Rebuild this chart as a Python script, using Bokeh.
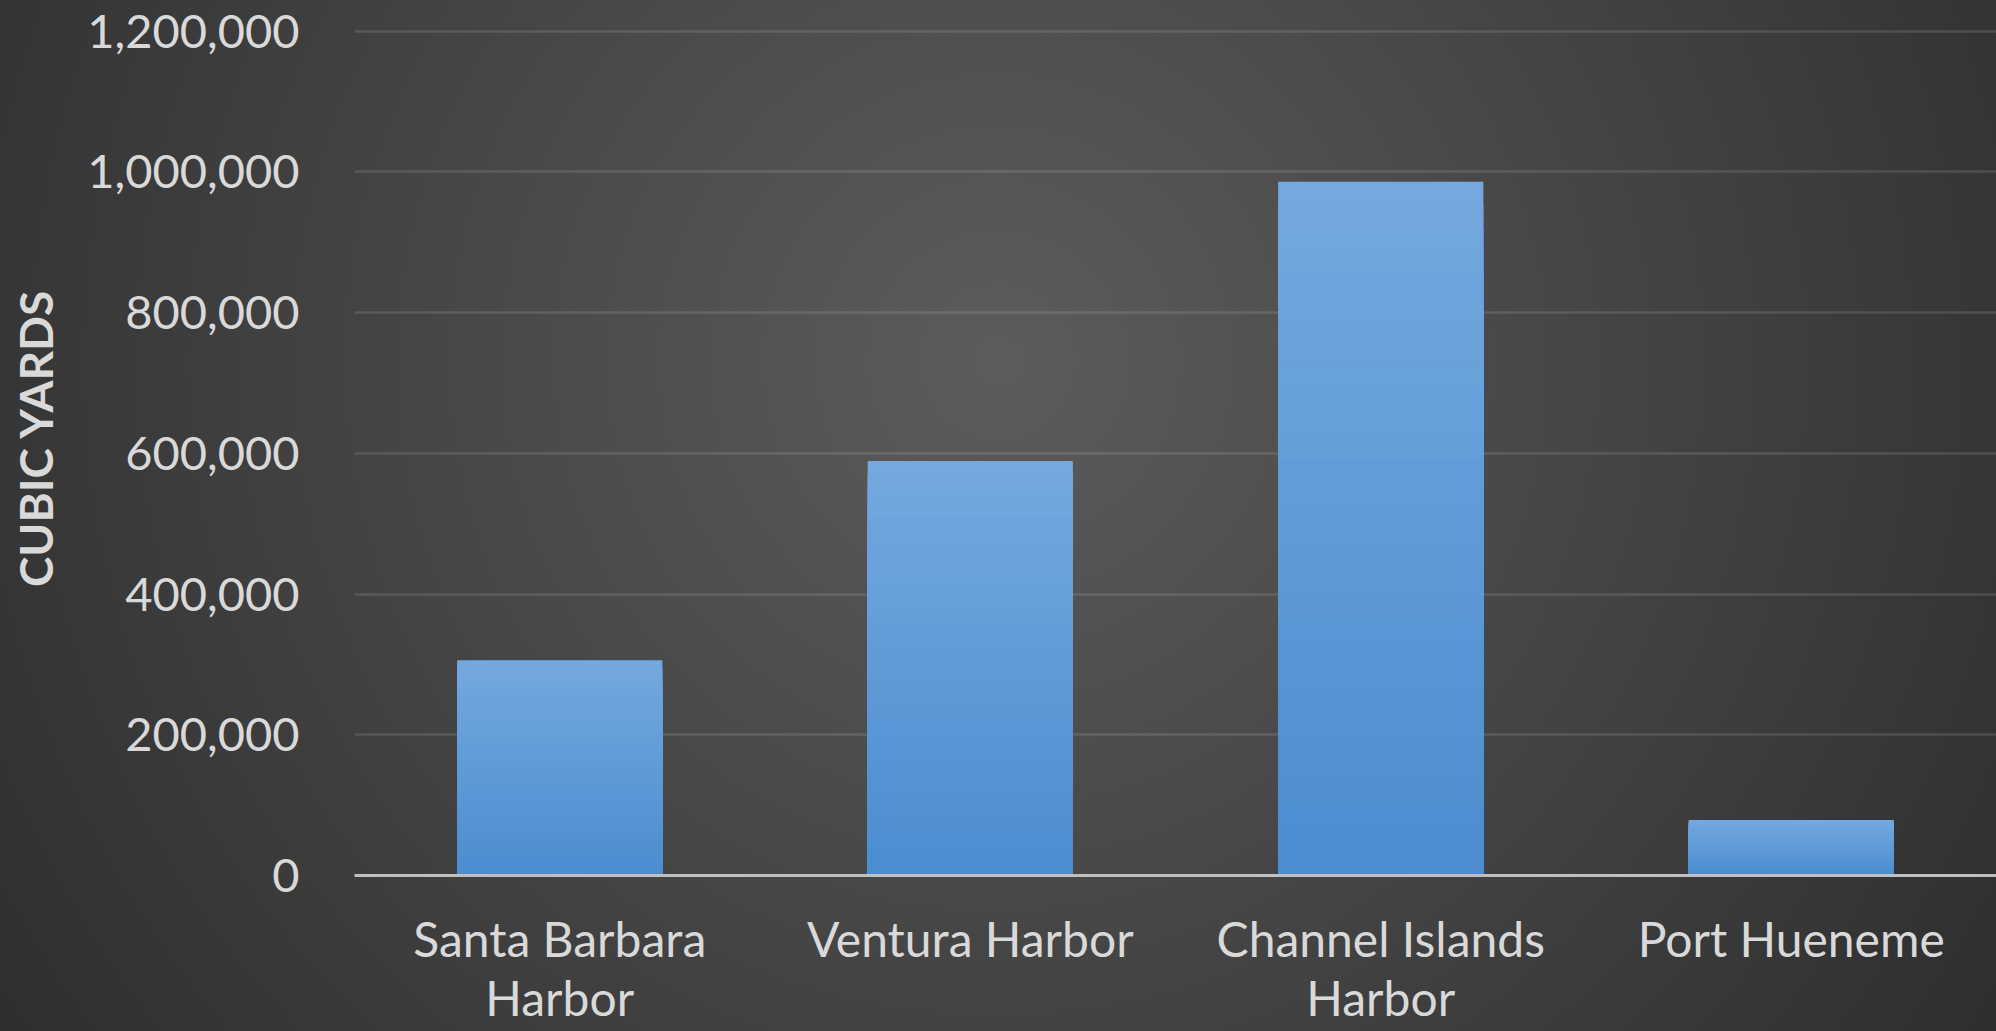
from bokeh.plotting import figure
from bokeh.models import Range1d, FixedTicker, NumeralTickFormatter, FactorRange
from bokeh.embed import file_html
from bokeh.resources import INLINE

# ---- data ----
harbors = ["Santa Barbara\nHarbor", "Ventura Harbor", "Channel Islands\nHarbor", "Port Hueneme"]
cubic_yards = [306000, 589000, 986000, 79000]
y_ticks = [0, 200000, 400000, 600000, 800000, 1000000, 1200000]
y_title = "CUBIC YARDS"

BG = "radial-gradient(circle farthest-corner at 50% 35%, #5c5c5c 0%, #2e2e2e 100%)"

p = figure(
    width=1996, height=1031,
    x_range=FactorRange(*harbors),
    y_range=Range1d(0, 1243650),
    output_backend="svg", toolbar_location=None,
    min_border_left=354, min_border_right=0, min_border_top=0, min_border_bottom=156,
)
p.styles = {"background-image": BG}
p.background_fill_alpha = 0
p.border_fill_alpha = 0
p.outline_line_color = None

# bars with a vertical gradient (lighter top, darker bottom)
top_rgb = (0x74, 0xa8, 0xdf)
bot_rgb = (0x4a, 0x8c, 0xcf)
N = 30
for j in range(N):
    frac = 1 - j / N
    col = tuple(int(round(bot_rgb[k] + (top_rgb[k] - bot_rgb[k]) * frac)) for k in range(3))
    p.vbar(x=harbors, top=[v * frac for v in cubic_yards], bottom=0, width=0.5,
           fill_color="#%02x%02x%02x" % col, line_color=None)

# grid
p.xgrid.grid_line_color = None
p.ygrid.grid_line_color = "white"
p.ygrid.grid_line_alpha = 0.12
p.ygrid.grid_line_width = 2.5
p.ygrid.ticker = FixedTicker(ticks=y_ticks)

# y axis
ya = p.yaxis[0]
ya.ticker = FixedTicker(ticks=y_ticks)
ya.formatter = NumeralTickFormatter(format="0,0")
ya.axis_line_color = None
ya.major_tick_line_color = None
ya.minor_tick_line_color = None
ya.major_label_standoff = 49
ya.major_label_text_font = "Lato"
ya.major_label_text_font_size = "47px"
ya.major_label_text_color = "#d9d9d9"
ya.axis_label = y_title
ya.axis_label_text_font = "Lato"
ya.axis_label_text_font_style = "bold"
ya.axis_label_text_font_size = "46px"
ya.axis_label_text_color = "#d9d9d9"
ya.axis_label_standoff = 21

# x axis
xa = p.xaxis[0]
xa.axis_line_color = "#c0c0c0"
xa.axis_line_width = 3
xa.major_tick_line_color = None
xa.minor_tick_line_color = None
xa.major_label_standoff = 28
xa.major_label_text_font = "Lato"
xa.major_label_text_font_size = "48px"
xa.major_label_text_color = "#d9d9d9"
xa.major_label_text_line_height = 1.04

html = file_html(p, INLINE)
html = html.replace("<body>", '<body style="margin:0;background:#333333;">', 1)
open("out.html", "w").write(html)
